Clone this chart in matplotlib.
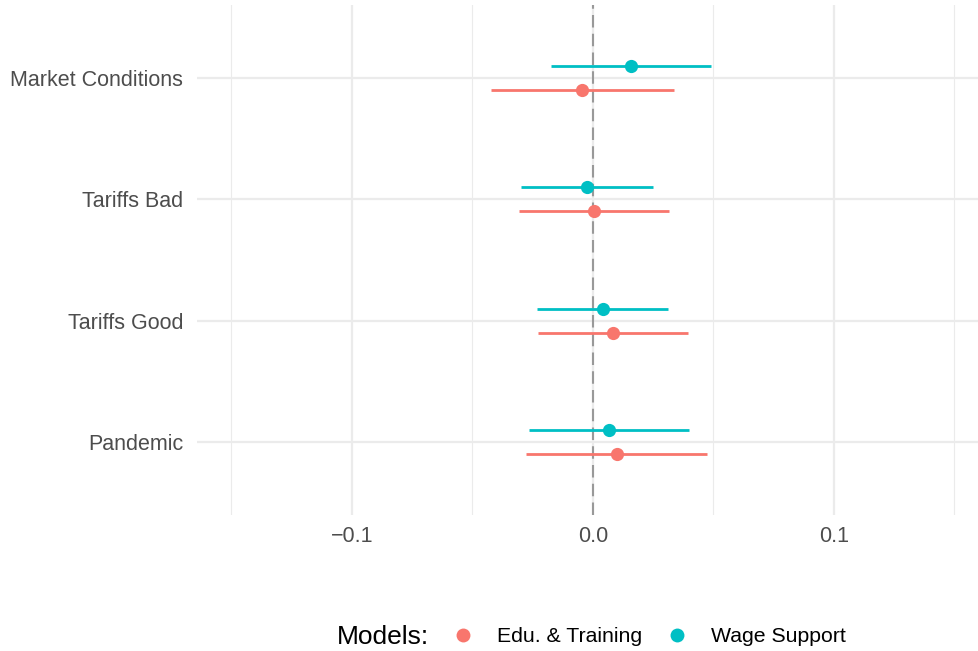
import numpy as np
import matplotlib
matplotlib.use('Agg')
import matplotlib.pyplot as plt
from matplotlib.lines import Line2D

plt.rcParams['font.family'] = ['Liberation Sans', 'DejaVu Sans']
plt.rcParams['axes.unicode_minus'] = True

# data
categories = ['Pandemic', 'Tariffs Good', 'Tariffs Bad', 'Market Conditions']
models = ['Edu. & Training', 'Wage Support']
colors = ['#F8766D', '#00BFC4']

edu_est = [0.0098, 0.0084, 0.0003, -0.0044]
edu_lo = [-0.0276, -0.0226, -0.0307, -0.0424]
edu_hi = [0.0472, 0.0394, 0.0314, 0.0336]

wage_est = [0.0066, 0.0040, -0.0026, 0.0160]
wage_lo = [-0.0264, -0.0232, -0.0298, -0.0174]
wage_hi = [0.0397, 0.0311, 0.0249, 0.0491]

estimates = [edu_est, wage_est]
lows = [edu_lo, wage_lo]
highs = [edu_hi, wage_hi]
offsets = [-0.1, 0.1]

fig = plt.figure(figsize=(9.79, 6.51), dpi=100)
ax = fig.add_axes([197 / 979, 1 - 515 / 651, 1 - 197 / 979, 510 / 651])

# grid
for x in [-0.15, -0.05, 0.05, 0.15]:
    ax.axvline(x, color='#EBEBEB', lw=0.8, zorder=0)
for x in [-0.1, 0.0, 0.1]:
    ax.axvline(x, color='#EBEBEB', lw=1.6, zorder=0)
for y in range(len(categories)):
    ax.axhline(y, color='#EBEBEB', lw=1.6, zorder=0)

# zero line
ax.axvline(0, color='#999999', lw=1.5, linestyle=(0, (6, 3)), zorder=1)

ypos = np.arange(len(categories))
for i in range(len(models)):
    y = ypos + offsets[i]
    ax.hlines(y, lows[i], highs[i], color=colors[i], lw=2.0, zorder=2)
    ax.plot(estimates[i], y, 'o', color=colors[i], markersize=9.5,
            markeredgewidth=0, zorder=3)

ax.set_xlim(-0.1643, 0.1602)
ax.set_ylim(-0.6, 3.6)
ax.set_xticks([-0.1, 0.0, 0.1])
ax.set_xticklabels(['\u22120.1', '0.0', '0.1'])
ax.set_yticks(ypos)
ax.set_yticklabels(categories)
ax.tick_params(axis='both', length=0, labelsize=15.5, labelcolor='#4D4D4D')
ax.tick_params(axis='x', pad=8)
ax.tick_params(axis='y', pad=10)
for s in ax.spines.values():
    s.set_visible(False)

# legend
handles = [Line2D([], [], marker='o', linestyle='', color=c, markersize=10,
                  markeredgewidth=0) for c in colors]
fig.text(337 / 979, 1 - 637 / 651, 'Models:', fontsize=19, va='center',
         ha='left', color='black')
fig.legend(handles, models, loc='center left',
           bbox_to_anchor=(454.5 / 979, 1 - 637 / 651), ncol=2, frameon=False,
           fontsize=15.3, handletextpad=1.2, columnspacing=1.25,
           borderpad=0, borderaxespad=0, handlelength=0.8)

fig.savefig('out.png', dpi=100)
